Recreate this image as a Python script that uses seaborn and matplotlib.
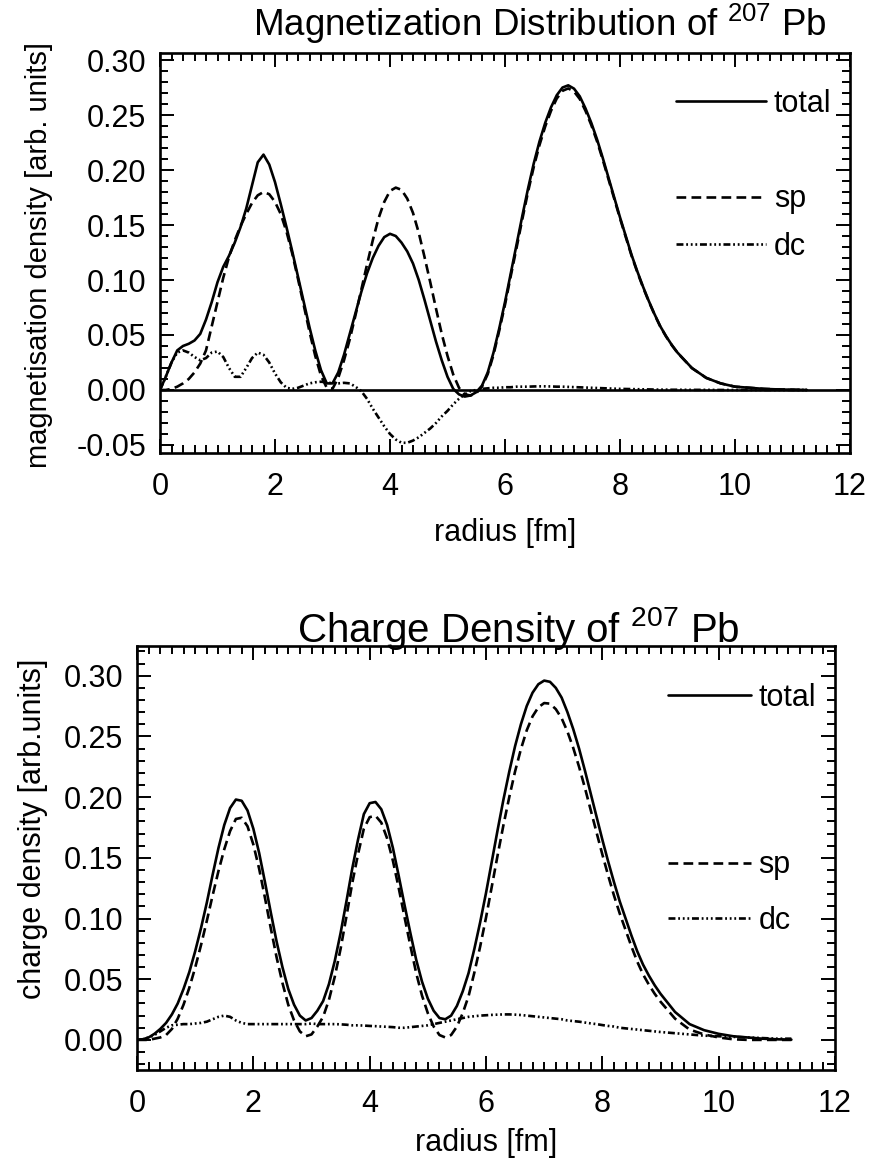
import numpy as np
import pandas as pd
import seaborn as sns
import matplotlib
matplotlib.use("Agg")
import matplotlib.pyplot as plt
from matplotlib.lines import Line2D
from matplotlib.ticker import MultipleLocator, FormatStrFormatter

# ---------------- data ----------------
radius = [0.0, 0.1, 0.2, 0.3, 0.4, 0.5, 0.6, 0.7, 0.8, 0.9,
          1.0, 1.1, 1.2, 1.3, 1.4, 1.5, 1.6, 1.7, 1.8, 1.9,
          2.0, 2.1, 2.2, 2.3, 2.4, 2.5, 2.6, 2.7, 2.8, 2.9,
          3.0, 3.1, 3.2, 3.3, 3.4, 3.5, 3.6, 3.7, 3.8, 3.9,
          4.0, 4.1, 4.2, 4.3, 4.4, 4.5, 4.6, 4.7, 4.8, 4.9,
          5.0, 5.1, 5.2, 5.3, 5.4, 5.5, 5.6, 5.7, 5.8, 5.9,
          6.0, 6.1, 6.2, 6.3, 6.4, 6.5, 6.6, 6.7, 6.8, 6.9,
          7.0, 7.1, 7.2, 7.3, 7.4, 7.5, 7.6, 7.7, 7.8, 7.9,
          8.0, 8.1, 8.2, 8.3, 8.4, 8.5, 8.6, 8.7, 8.8, 8.9,
          9.0, 9.25, 9.5, 9.75, 10.0, 10.25, 10.5, 10.75, 11.0, 11.25]

# magnetisation density
mag_total = [0.000, 0.012, 0.025, 0.036, 0.040, 0.042, 0.045, 0.051, 0.064, 0.080,
             0.098, 0.112, 0.122, 0.134, 0.148, 0.165, 0.186, 0.207, 0.214, 0.205,
             0.189, 0.169, 0.148, 0.126, 0.103, 0.080, 0.057, 0.036, 0.018, 0.006,
             0.006, 0.016, 0.032, 0.051, 0.070, 0.089, 0.106, 0.120, 0.131, 0.139,
             0.142, 0.140, 0.134, 0.126, 0.115, 0.100, 0.082, 0.063, 0.044, 0.027,
             0.012, 0.001, -0.004, -0.006, -0.005, -0.002, 0.004, 0.016, 0.034, 0.056,
             0.080, 0.106, 0.132, 0.158, 0.183, 0.206, 0.226, 0.243, 0.257, 0.268,
             0.275, 0.277, 0.274, 0.267, 0.256, 0.243, 0.228, 0.211, 0.193, 0.175,
             0.157, 0.140, 0.123, 0.108, 0.094, 0.081, 0.069, 0.058, 0.049, 0.041,
             0.034, 0.020, 0.011, 0.006, 0.003, 0.002, 0.001, 0.0005, 0.0002, 0.0]
mag_sp = [0.000, 0.000, 0.001, 0.003, 0.006, 0.010, 0.016, 0.024, 0.036, 0.058,
          0.080, 0.102, 0.121, 0.136, 0.149, 0.160, 0.170, 0.177, 0.180, 0.178,
          0.171, 0.160, 0.144, 0.124, 0.101, 0.077, 0.053, 0.031, 0.013, 0.002,
          0.001, 0.011, 0.027, 0.046, 0.068, 0.091, 0.114, 0.136, 0.156, 0.171,
          0.181, 0.184, 0.182, 0.174, 0.161, 0.143, 0.121, 0.098, 0.074, 0.051,
          0.031, 0.014, 0.002, -0.004, -0.005, -0.003, 0.003, 0.0145, 0.032, 0.054,
          0.0775, 0.1035, 0.129, 0.155, 0.180, 0.2028, 0.2227, 0.2397, 0.2538, 0.265,
          0.272, 0.2742, 0.2714, 0.2646, 0.2538, 0.241, 0.2262, 0.2094, 0.1916, 0.1738,
          0.156, 0.1391, 0.1222, 0.1073, 0.0934, 0.0805, 0.0686, 0.0577, 0.0487, 0.0408,
          0.0338, 0.0199, 0.011, 0.006, 0.003, 0.002, 0.001, 0.0005, 0.0002, 0.0]
mag_dc = [0.000, 0.012, 0.025, 0.034, 0.036, 0.034, 0.030, 0.027, 0.029, 0.034,
          0.035, 0.030, 0.020, 0.012, 0.012, 0.020, 0.029, 0.034, 0.032, 0.025,
          0.015, 0.007, 0.002, 0.001, 0.002, 0.004, 0.006, 0.007, 0.0075, 0.007,
          0.006, 0.006, 0.0065, 0.006, 0.003, -0.001, -0.008, -0.017, -0.025, -0.033,
          -0.040, -0.045, -0.048, -0.048, -0.046, -0.043, -0.039, -0.035, -0.030, -0.024,
          -0.019, -0.013, -0.008, -0.004, -0.001, 0.000, 0.001, 0.0015, 0.002, 0.002,
          0.0025, 0.0025, 0.003, 0.003, 0.003, 0.0032, 0.0033, 0.0033, 0.0032, 0.003,
          0.003, 0.0028, 0.0026, 0.0024, 0.0022, 0.002, 0.0018, 0.0016, 0.0014, 0.0012,
          0.001, 0.0009, 0.0008, 0.0007, 0.0006, 0.0005, 0.0004, 0.0003, 0.0003, 0.0002,
          0.0002, 0.0001, 0.0001, 0.0, 0.0, 0.0, 0.0, 0.0, 0.0, 0.0]

# charge density
chg_total = [0.000, 0.0005, 0.002, 0.005, 0.009, 0.014, 0.021, 0.030, 0.042, 0.056,
             0.073, 0.092, 0.113, 0.136, 0.158, 0.177, 0.191, 0.198, 0.197, 0.189,
             0.174, 0.154, 0.130, 0.105, 0.081, 0.060, 0.042, 0.029, 0.020, 0.016,
             0.018, 0.024, 0.032, 0.046, 0.065, 0.088, 0.114, 0.141, 0.165, 0.186,
             0.195, 0.196, 0.190, 0.177, 0.158, 0.135, 0.111, 0.088, 0.066, 0.048,
             0.034, 0.024, 0.018, 0.017, 0.020, 0.028, 0.040, 0.055, 0.075, 0.097,
             0.121, 0.147, 0.173, 0.198, 0.221, 0.242, 0.260, 0.275, 0.286, 0.293,
             0.296, 0.295, 0.290, 0.282, 0.270, 0.256, 0.240, 0.222, 0.203, 0.184,
             0.165, 0.147, 0.130, 0.114, 0.100, 0.086, 0.073, 0.062, 0.053, 0.045,
             0.038, 0.023, 0.013, 0.008, 0.005, 0.003, 0.002, 0.001, 0.0005, 0.0002]
chg_sp = [0.000, 0.000, 0.000, 0.001, 0.002, 0.004, 0.009, 0.0175, 0.029, 0.043,
          0.0595, 0.078, 0.098, 0.119, 0.139, 0.157, 0.172, 0.182, 0.183, 0.176,
          0.161, 0.141, 0.117, 0.092, 0.068, 0.047, 0.029, 0.016, 0.007, 0.003,
          0.0045, 0.011, 0.019, 0.033, 0.052, 0.075, 0.1015, 0.129, 0.153, 0.174,
          0.1835, 0.1847, 0.179, 0.166, 0.1475, 0.125, 0.101, 0.0775, 0.055, 0.0365,
          0.022, 0.011, 0.004, 0.002, 0.004, 0.011, 0.022, 0.036, 0.0555, 0.077,
          0.1007, 0.1264, 0.1522, 0.177, 0.200, 0.2212, 0.2395, 0.255, 0.2665, 0.274,
          0.2775, 0.277, 0.2725, 0.265, 0.254, 0.2405, 0.225, 0.2077, 0.1894, 0.171,
          0.1528, 0.1355, 0.119, 0.104, 0.0905, 0.077, 0.0645, 0.054, 0.0455, 0.038,
          0.0315, 0.0175, 0.0085, 0.0045, 0.002, 0.0005, 0.0, 0.0, 0.0, 0.0]
chg_dc = [0.000, 0.0005, 0.002, 0.004, 0.007, 0.010, 0.012, 0.0125, 0.013, 0.013,
          0.0135, 0.014, 0.015, 0.017, 0.019, 0.020, 0.019, 0.016, 0.014, 0.013,
          0.013, 0.013, 0.013, 0.013, 0.013, 0.013, 0.013, 0.013, 0.013, 0.013,
          0.0135, 0.013, 0.013, 0.013, 0.013, 0.0128, 0.0125, 0.012, 0.012, 0.0118,
          0.0115, 0.0113, 0.011, 0.0108, 0.0105, 0.010, 0.010, 0.0105, 0.011, 0.0115,
          0.012, 0.013, 0.014, 0.015, 0.016, 0.017, 0.018, 0.019, 0.0195, 0.020,
          0.0203, 0.0206, 0.0208, 0.021, 0.021, 0.0208, 0.0205, 0.020, 0.0195, 0.019,
          0.0185, 0.018, 0.0175, 0.017, 0.016, 0.0155, 0.015, 0.0143, 0.0136, 0.013,
          0.0122, 0.0115, 0.011, 0.010, 0.0095, 0.009, 0.0085, 0.008, 0.0075, 0.007,
          0.0065, 0.0055, 0.0045, 0.0035, 0.003, 0.0025, 0.002, 0.0015, 0.001, 0.001]

components = ["total", "sp", "dc"]
x_ticks = [0, 2, 4, 6, 8, 10, 12]

# ---------------- style ----------------
sns.set_theme(style="ticks")
plt.rcParams["font.family"] = ["Liberation Sans", "DejaVu Sans"]
plt.rcParams["mathtext.fontset"] = "custom"
plt.rcParams["mathtext.rm"] = "Liberation Sans"
plt.rcParams["mathtext.default"] = "regular"
plt.rcParams["lines.scale_dashes"] = False
plt.rcParams["text.color"] = "black"
plt.rcParams["axes.labelcolor"] = "black"

LW = 1.9
dash_styles = {"total": "", "sp": (7, 3.8), "dc": (5, 2, 1.3, 2, 1.3, 2, 1.3, 2)}


def long_frame(total, sp, dc):
    return pd.concat([
        pd.DataFrame({"radius": radius, "density": total, "component": "total"}),
        pd.DataFrame({"radius": radius, "density": sp, "component": "sp"}),
        pd.DataFrame({"radius": radius, "density": dc, "component": "dc"}),
    ], ignore_index=True)


df_mag = long_frame(mag_total, mag_sp, mag_dc)
df_chg = long_frame(chg_total, chg_sp, chg_dc)

W, H = 874, 1162
fig = plt.figure(figsize=(W / 100, H / 100), dpi=100)
ax1 = fig.add_axes([160 / W, 1 - 453 / H, 690 / W, 400 / H])
ax2 = fig.add_axes([137 / W, 1 - 1070 / H, 698 / W, 424 / H])


def draw(ax, df, ylim, ylabel, ylabel_size, ylabel_xy, xlabel_pad,
         leg_anchor, n_blank, labelspacing, handlelen):
    sns.lineplot(data=df, x="radius", y="density", style="component",
                 style_order=components, dashes=dash_styles, color="black",
                 linewidth=LW, estimator=None, sort=False, legend=False, ax=ax)
    ax.set_xlim(0, 12)
    ax.set_ylim(*ylim)
    ax.set_xticks(x_ticks)
    ax.xaxis.set_minor_locator(MultipleLocator(0.2))
    ax.yaxis.set_major_locator(MultipleLocator(0.05))
    ax.yaxis.set_minor_locator(MultipleLocator(0.01))
    ax.yaxis.set_major_formatter(FormatStrFormatter("%.2f"))
    ax.tick_params(which="both", direction="in", top=True, right=True,
                   color="black", width=1.4, labelsize=22, labelcolor="black")
    ax.tick_params(which="major", length=10)
    ax.tick_params(which="minor", length=5.5)
    ax.tick_params(axis="x", which="major", pad=14)
    ax.tick_params(axis="y", which="major", pad=10)
    for sp in ax.spines.values():
        sp.set_linewidth(1.9)
        sp.set_color("black")
    ax.set_xlabel("radius [fm]", fontsize=22, labelpad=xlabel_pad)
    ax.set_ylabel(ylabel, fontsize=ylabel_size)
    ax.yaxis.set_label_coords(*ylabel_xy)
    handles = [Line2D([], [], color="black", lw=LW, linestyle="-")]
    labels = ["total"]
    for _ in range(n_blank):
        handles.append(Line2D([], [], color="none"))
        labels.append("")
    handles.append(Line2D([], [], color="black", lw=LW, dashes=dash_styles["sp"]))
    labels.append("sp")
    handles.append(Line2D([], [], color="black", lw=LW, dashes=dash_styles["dc"]))
    labels.append("dc")
    ax.legend(handles, labels, loc="upper left", bbox_to_anchor=leg_anchor,
              frameon=False, fontsize=22, handlelength=handlelen,
              handletextpad=0.25, labelspacing=labelspacing, borderpad=0,
              borderaxespad=0)


draw(ax1, df_mag, (-0.0573, 0.3064), "magnetisation density [arb. units]",
     21, (-0.155, 0.495), 11, (0.748, 0.91), 1, 0.58, 2.95)
ax1.axhline(0, color="black", lw=LW)
draw(ax2, df_chg, (-0.0248, 0.3245), "charge density [arb.units]",
     22, (-0.1275, 0.57), 6, (0.761, 0.913), 2, 0.845, 2.7)

fig.text(540 / W, 1 - 24 / H, "Magnetization Distribution of $^{207}$ Pb",
         ha="center", va="center", fontsize=26.5)
fig.text(518 / W, 1 - 628 / H, "Charge Density of $^{207}$ Pb",
         ha="center", va="center", fontsize=29)

fig.savefig("out.png", dpi=100)
